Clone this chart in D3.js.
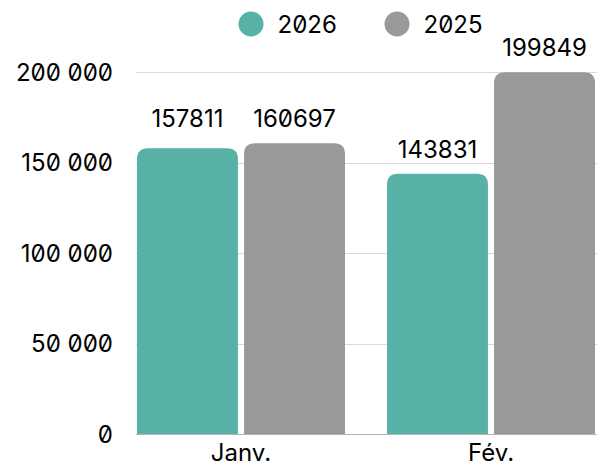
<!DOCTYPE html>
<html>
<head>
<meta charset="utf-8">
<script src="https://cdn.jsdelivr.net/npm/d3@7/dist/d3.min.js"></script>
<style>
  html, body { margin: 0; padding: 0; background: #fff; }
  svg { display: block; font-family: Inter, "Noto Sans", sans-serif; font-feature-settings: "zero" 1; }
</style>
</head>
<body>
<svg id="chart" width="597" height="468"></svg>
<script>
const categories = ["Janv.", "Fév."];
const seriesNames = ["2026", "2025"];
const values2026 = [157811, 143831];
const values2025 = [160697, 199849];
const yTicks = [0, 50000, 100000, 150000, 200000];
const colors = ["#58b1a7", "#98999b"];

const svg = d3.select("#chart");
const W = 597, H = 468;
const plotLeft = 136, plotRight = 597, plotTop = 72, plotBottom = 434;
const FS = 24;

const y = d3.scaleLinear().domain([0, 200000]).range([plotBottom, plotTop]);
const x0 = d3.scaleBand().domain(categories).range([116, 616]).paddingInner(0.168).paddingOuter(0.084);
const x1 = d3.scaleBand().domain(seriesNames).range([0, x0.bandwidth()]).paddingInner(0.057);

const fmt = d3.formatLocale({ decimal: ",", thousands: " ", grouping: [3], currency: ["", ""] }).format(",d");

// gridlines
svg.append("g").selectAll("line").data(yTicks.filter(d => d > 0)).join("line")
  .attr("x1", plotLeft).attr("x2", plotRight)
  .attr("y1", d => Math.round(y(d)) + 0.5).attr("y2", d => Math.round(y(d)) + 0.5)
  .attr("stroke", "#d9d9d9").attr("stroke-width", 1);

// y tick labels
svg.append("g").selectAll("text").data(yTicks).join("text")
  .attr("x", 113).attr("y", d => y(d)).attr("dy", "0.36em")
  .attr("text-anchor", "end").attr("font-size", FS).attr("fill", "#000")
  .text(d => fmt(d));

const data = categories.map((c, i) => ({
  cat: c,
  items: [
    { s: seriesNames[0], v: values2026[i], c: colors[0] },
    { s: seriesNames[1], v: values2025[i], c: colors[1] }
  ]
}));

function topRounded(x, yTop, w, yBot, r) {
  r = Math.min(r, w / 2, yBot - yTop);
  return `M${x},${yBot} L${x},${yTop + r} Q${x},${yTop} ${x + r},${yTop} L${x + w - r},${yTop} Q${x + w},${yTop} ${x + w},${yTop + r} L${x + w},${yBot} Z`;
}

const groups = svg.append("g").selectAll("g").data(data).join("g")
  .attr("transform", d => `translate(${x0(d.cat)},0)`);

groups.selectAll("path").data(d => d.items).join("path")
  .attr("d", d => topRounded(x1(d.s), y(d.v), x1.bandwidth(), y(0), 11))
  .attr("fill", d => d.c);

// baseline
svg.append("line").attr("x1", plotLeft).attr("x2", plotRight)
  .attr("y1", plotBottom + 0.5).attr("y2", plotBottom + 0.5)
  .attr("stroke", "#b5b5b5").attr("stroke-width", 1);

// value labels
groups.each(function(d) {
  const tops = d.items.map(it => y(it.v));
  const close = Math.abs(tops[0] - tops[1]) < 10;
  const minTop = d3.min(tops);
  d3.select(this).selectAll("text.val").data(d.items).join("text")
    .attr("class", "val")
    .attr("x", it => x1(it.s) + x1.bandwidth() / 2)
    .attr("y", (it, i) => (close ? minTop : tops[i]) - 16)
    .attr("text-anchor", "middle").attr("font-size", FS).attr("fill", "#000")
    .text(it => it.v);
});

// category labels
svg.append("g").selectAll("text").data(categories).join("text")
  .attr("x", d => x0(d) + x0.bandwidth() / 2).attr("y", 461)
  .attr("text-anchor", "middle").attr("font-size", FS).attr("fill", "#000")
  .text(d => d);

// legend
const legend = svg.append("g").selectAll("g").data(seriesNames).join("g")
  .attr("transform", (d, i) => `translate(${251 + i * 146},24)`);
legend.append("circle").attr("r", 12.5).attr("fill", (d, i) => colors[i]);
legend.append("text").attr("x", 26.5).attr("dy", "0.36em")
  .attr("font-size", FS).attr("fill", "#000").text(d => d);
</script>
</body>
</html>
